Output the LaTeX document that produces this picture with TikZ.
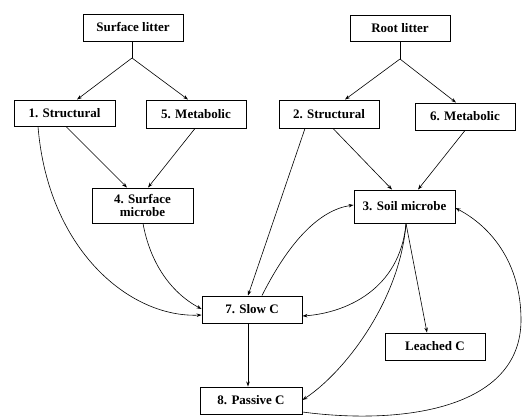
\documentclass[tikz,border=0pt]{standalone}
\usepackage{fontspec}
\setmainfont{Liberation Serif}
\usetikzlibrary{arrows.meta}
\begin{document}
\begin{tikzpicture}[x=1pt,y=-1pt,
  box/.style={draw=black,line width=0.9pt,fill=white,inner sep=0pt,
    font=\fontsize{13}{13}\selectfont\bfseries,align=center},
  conn/.style={line width=0.6pt,-{Stealth[length=5pt,width=3.5pt]}},
  plain/.style={line width=0.6pt}]
\useasboundingbox (0,0) rectangle (524,417);
\node[box,minimum width=100pt,minimum height=27pt] (SL) at (133,27.5) {Surface litter};
\node[box,minimum width=100pt,minimum height=26pt] (RL) at (400,28) {Root litter};
\node[box,minimum width=101pt,minimum height=26pt] (S1) at (64.5,113) {1. Structural};
\node[box,minimum width=100pt,minimum height=28pt] (M5) at (196,114) {5. Metabolic};
\node[box,minimum width=100pt,minimum height=28pt] (S2) at (329,114) {2. Structural};
\node[box,minimum width=100pt,minimum height=27pt] (M6) at (465,116.5) {6. Metabolic};
\node[box,minimum width=101pt,minimum height=35pt] (SM4) at (142.5,205.5) {4. Surface\\microbe};
\node[box,minimum width=101pt,minimum height=33pt] (SM3) at (404.5,206.5) {3. Soil microbe};
\node[box,minimum width=100pt,minimum height=27pt] (SC7) at (252,309.5) {7. Slow C};
\node[box,minimum width=102pt,minimum height=27pt] (PC8) at (251,400.5) {8. Passive C};
\node[box,minimum width=100pt,minimum height=27pt] (LC) at (435,346.5) {Leached C};
\coordinate (J1) at (132,58);
\coordinate (J2) at (400,59);
% litter splits
\draw[plain] (SL.south -| J1) -- (J1);
\draw[conn] (J1) -- (S1.north -| 77,0);
\draw[conn] (J1) -- (M5.north -| 188,0);
\draw[plain] (RL.south -| J2) -- (J2);
\draw[conn] (J2) -- (S2.north -| 345,0);
\draw[conn] (J2) -- (M6.north -| 456,0);
% to microbes
\draw[conn] (S1.south -| 66,0) -- (SM4.north -| 127,0);
\draw[conn] (M5.south -| 195,0) -- (SM4.north -| 148,0);
\draw[conn] (S2.south -| 333,0) -- (SM3.north -| 392,0);
\draw[conn] (M6.south -| 465,0) -- (SM3.north -| 418,0);
% to slow C
\draw[conn] (S2.south -| 305,0) -- (SC7.north -| 248,0);
\draw[conn] (S1.south -| 38,0) .. controls (48,250) and (130,318) .. (SC7.west |- 0,315);
\draw[conn] (SM4.south -| 143,0) .. controls (150,262) and (170,292) .. (SC7.west |- 0,309);
\draw[conn] (SC7.north -| 262,0) .. controls (290,240) and (320,210) .. (SM3.west |- 0,205);
\draw[conn] (SM3.south -| 406,0) .. controls (400,290) and (345,313) .. (SC7.east |- 0,316);
\draw[conn] (SM3.south -| 406,0) .. controls (400,300) and (345,372) .. (PC8.east |- 0,400);
\draw[conn] (SM3.south -| 406,0) -- (LC.north -| 427,0);
\draw[conn,line width=0.9pt] (SC7.south -| 248,0) -- (PC8.north -| 248,0);
\draw[conn] (PC8.east |- 0,412) .. controls (400,425) and (521,410) .. (521,320)
  .. controls (521,262) and (490,226) .. (SM3.east |- 0,208);
\end{tikzpicture}
\end{document}
